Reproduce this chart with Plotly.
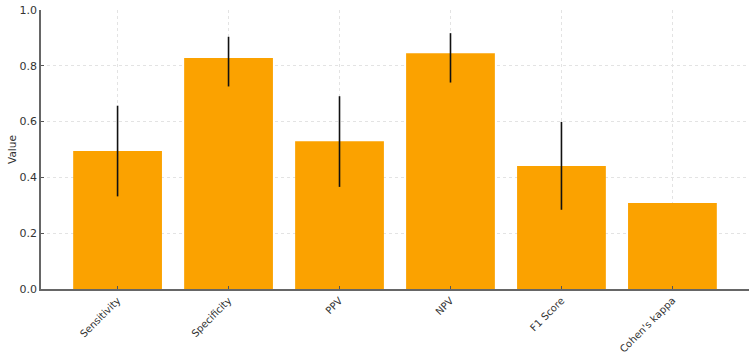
import plotly.graph_objects as go

categories = ["Sensitivity", "Specificity", "PPV", "NPV", "F1 Score", "Cohen's kappa"]
values = [0.495, 0.828, 0.530, 0.845, 0.441, 0.308]
err_plus = [0.162, 0.076, 0.161, 0.072, 0.158, 0.0]
err_minus = [0.163, 0.102, 0.164, 0.105, 0.157, 0.0]
y_ticks = [0.0, 0.2, 0.4, 0.6, 0.8, 1.0]

fig = go.Figure()
fig.add_trace(go.Bar(
    x=list(range(len(categories))),
    y=values,
    width=0.8,
    marker=dict(color="#FBA200", line=dict(width=0)),
    error_y=dict(type="data", symmetric=False, array=err_plus, arrayminus=err_minus,
                 color="#111111", thickness=1.6, width=0),
))

font = dict(family="DejaVu Sans", size=11, color="#333333")
fig.update_layout(
    width=752, height=356,
    margin=dict(l=41, r=3, t=10, b=66.5),
    plot_bgcolor="white", paper_bgcolor="white",
    showlegend=False,
    font=font,
    xaxis=dict(
        range=[-0.69, 5.69],
        tickmode="array", tickvals=list(range(len(categories))), ticktext=categories,
        tickangle=-45, ticks="inside", ticklen=3, tickcolor="#555555",
        tickfont=dict(family="DejaVu Sans", size=10, color="#333333"),
        showgrid=True, gridcolor="#E3E3E3", griddash="dot", gridwidth=1,
        showline=True, linecolor="#666666", linewidth=1.5,
        zeroline=False, layer="above traces", automargin=False,
    ),
    yaxis=dict(
        range=[0, 1.0],
        tickmode="array", tickvals=y_ticks, ticktext=[f"{v:.1f}" for v in y_ticks],
        ticks="inside", ticklen=3, tickcolor="#555555",
        tickfont=dict(family="DejaVu Sans", size=11, color="#333333"),
        showgrid=True, gridcolor="#E3E3E3", griddash="dot", gridwidth=1,
        showline=True, linecolor="#666666", linewidth=1.5,
        zeroline=False, layer="above traces", automargin=False,
        title=dict(text="Value", font=dict(family="DejaVu Sans", size=10.5, color="#333333"), standoff=1),
    ),
)

fig.write_html("out.html")
